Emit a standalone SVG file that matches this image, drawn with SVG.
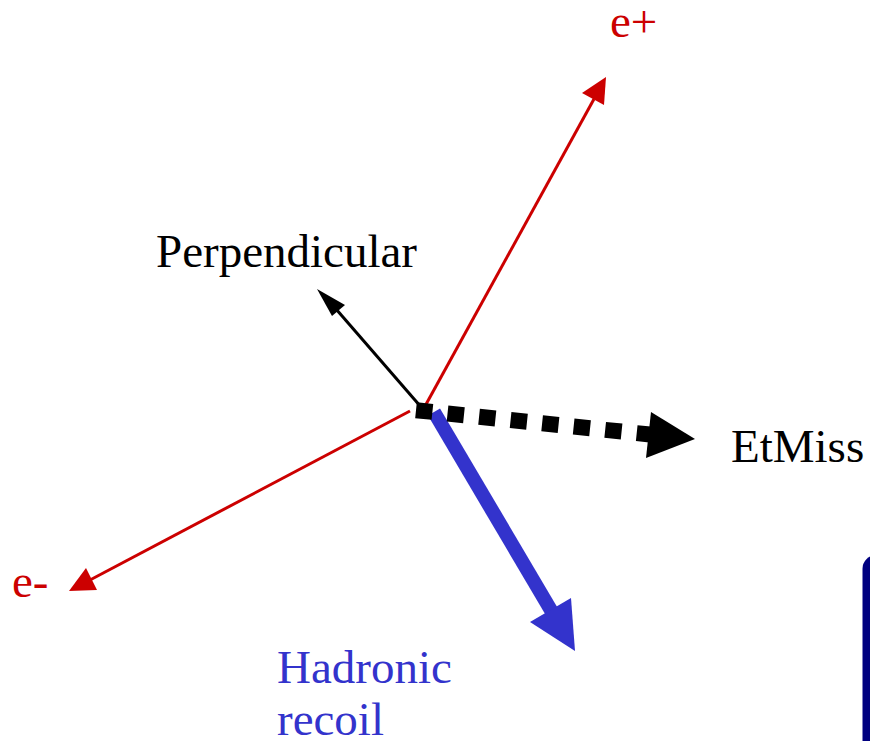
<svg xmlns="http://www.w3.org/2000/svg" width="870" height="741" viewBox="0 0 870 741">
<style>
text{font-family:"Liberation Serif","Times New Roman",serif;font-size:47px}
.red{fill:#CC0000}
.blue{fill:#3333CC}
.blk{fill:#000}
</style>
<rect width="870" height="741" fill="#fff"/>
<g id="connectors">
<g id="e-plus-arrow">
<line x1="424" y1="408" x2="594" y2="99" stroke="#CC0000" stroke-width="3"/>
<polygon points="606,77 582,93 604,105" fill="#CC0000"/>
</g>
<g id="e-minus-arrow">
<line x1="410" y1="411" x2="90" y2="580" stroke="#CC0000" stroke-width="3"/>
<polygon points="69,591 86,568 97,590" fill="#CC0000"/>
</g>
<g id="perp-arrow">
<line x1="421" y1="407" x2="336" y2="309" stroke="#000" stroke-width="3"/>
<polygon points="317,289 345,305 332,316" fill="#000"/>
</g>
<g id="hadronic-arrow">
<line x1="434" y1="412" x2="552" y2="612" stroke="#3333CC" stroke-width="14"/>
<polygon points="575,651 530,622 571,598" fill="#3333CC"/>
</g>
<g id="etmiss-arrow">
<line x1="416" y1="410.2" x2="650" y2="434.5" stroke="#000" stroke-width="16" stroke-dasharray="16.5 15.2"/>
<polygon points="695,439 651,412 646,458" fill="#000"/>
</g>
</g>
<g id="node-eplus"><text x="610" y="37" class="red">e+</text></g>
<g id="node-eminus"><text x="12" y="597" class="red">e-</text></g>
<g id="node-perp"><text x="156" y="267" class="blk">Perpendicular</text></g>
<g id="node-etmiss"><text x="731" y="462" class="blk">EtMiss</text></g>
<g id="node-hadronic"><text x="277" y="683" class="blue">Hadronic</text><text x="277" y="735" class="blue">recoil</text></g>
<g id="node-box"><rect x="862.5" y="555" width="40" height="250" rx="14" fill="#000080"/></g>
</svg>
